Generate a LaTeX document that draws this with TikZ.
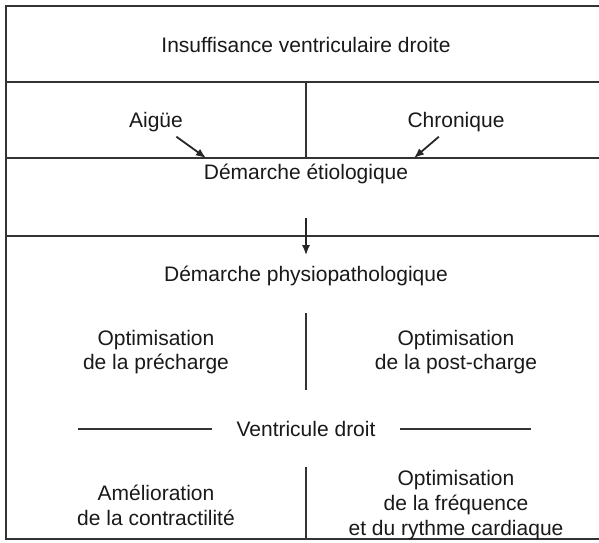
\documentclass[tikz,border=0pt]{standalone}
\usepackage{fontspec}
\setmainfont{Liberation Sans}
\usetikzlibrary{positioning,arrows.meta}

\begin{document}
\begin{tikzpicture}[x=0.5pt,y=-0.5pt,
                    line width=0.9pt,
                    rule/.style={draw=black!80},
                    pointer/.style={draw=black!85,-{Latex[length=5pt,width=4pt]}},
                    main node/.style={align=center,text=black!90,inner sep=2pt,
                                      font=\fontsize{10.5}{12.4}\selectfont}
                   ]
  \useasboundingbox (0,0) rectangle (599,542);

  % cadre et bandes
  \draw[rule] (599,6) -- (6,6) -- (6,539) -- (599,539);
  \draw[rule] (6,82) -- (599,82);
  \draw[rule] (6,158) -- (599,158);
  \draw[rule] (6,236) -- (599,236);
  \draw[rule] (306,82) -- (306,158);

  \node[main node] (ivd)    at (306,45)  {Insuffisance ventriculaire droite};
  \node[main node] (aigue)  at (156,122) {Aigüe};
  \node[main node] (chron)  at (456,122) {Chronique};
  \node[main node] (etio)   at (306,174) {Démarche étiologique};
  \node[main node] (physio) at (306,276) {Démarche physiopathologique};
  \node[main node] (prech)  at (156,352) {Optimisation\\de la précharge};
  \node[main node] (postch) at (456,352) {Optimisation\\de la post-charge};
  \node[main node] (vd)     at (306,429) {Ventricule droit};
  \node[main node] (contr)  at (156,505) {Amélioration\\de la contractilité};
  \node[main node] (freq)   at (456,505) {Optimisation\\de la fréquence\\et du rythme cardiaque};

  \coordinate (aigueTip) at (206,158);
  \coordinate (chronTip) at (414,158);
  \coordinate (etioDown) at (306,218);
  \coordinate (vdLeft)  at (78,429);
  \coordinate (vdRight) at (531,429);

  \draw[pointer] (aigue) -- (aigueTip);
  \draw[pointer] (chron) -- (chronTip);
  \draw[pointer, shorten >=3pt] (etioDown) -- (physio.north);

  \draw[rule, shorten >=10pt] (vdLeft) -- (vd.west);
  \draw[rule, shorten >=10pt] (vdRight) -- (vd.east);

  \draw[rule] (306,313) -- (306,390);
  \draw[rule] (306,467) -- (306,539);
\end{tikzpicture}
\end{document}
